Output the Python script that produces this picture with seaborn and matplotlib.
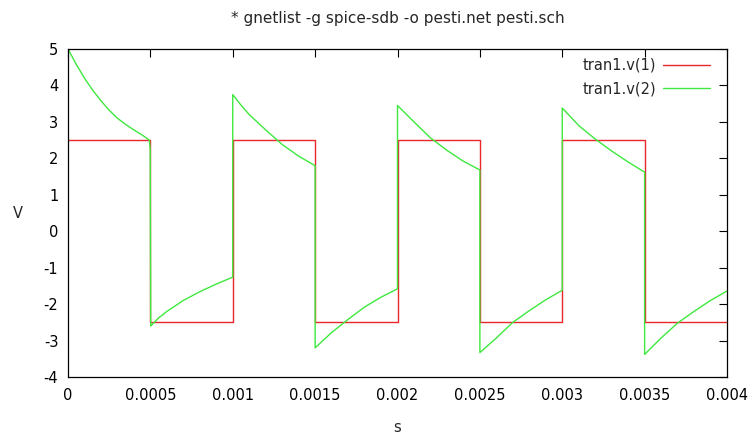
import matplotlib
matplotlib.use("Agg")
import matplotlib.pyplot as plt
import seaborn as sns
import pandas as pd

title = "* gnetlist -g spice-sdb -o pesti.net pesti.sch"
x_label = "s"
y_label = "V"
series_names = ["tran1.v(1)", "tran1.v(2)"]

x_ticks = [0, 0.0005, 0.001, 0.0015, 0.002, 0.0025, 0.003, 0.0035, 0.004]
x_tick_labels = ["0", "0.0005", "0.001", "0.0015", "0.002", "0.0025", "0.003", "0.0035", "0.004"]
y_ticks = [-4, -3, -2, -1, 0, 1, 2, 3, 4, 5]
y_tick_labels = ["-4", "-3", "-2", "-1", "0", "1", "2", "3", "4", "5"]

# tran1.v(1): square wave
v1_t = [0, 0.0005, 0.0005, 0.001, 0.001, 0.0015, 0.0015, 0.002, 0.002,
        0.0025, 0.0025, 0.003, 0.003, 0.0035, 0.0035, 0.004]
v1_v = [2.5, 2.5, -2.5, -2.5, 2.5, 2.5, -2.5, -2.5, 2.5,
        2.5, -2.5, -2.5, 2.5, 2.5, -2.5, -2.5]

# tran1.v(2)
v2_t = [0, 0.00005, 0.0001, 0.00015, 0.0002, 0.00025, 0.0003, 0.00035, 0.0004, 0.00045, 0.000494, 0.000499,
        0.000502, 0.00055, 0.0006, 0.0007, 0.0008, 0.0009, 0.001,
        0.001, 0.00105, 0.0011, 0.0012, 0.0013, 0.0014, 0.0015,
        0.0015, 0.0016, 0.0017, 0.0018, 0.0019, 0.002,
        0.002, 0.0021, 0.0022, 0.0023, 0.0024, 0.0025,
        0.0025, 0.0026, 0.0027, 0.0028, 0.0029, 0.003,
        0.003, 0.0031, 0.0032, 0.0033, 0.0034, 0.0035,
        0.0035, 0.0036, 0.0037, 0.0038, 0.0039, 0.004]
v2_v = [5.0, 4.58, 4.2, 3.87, 3.58, 3.32, 3.1, 2.93, 2.78, 2.64, 2.5, 2.25,
        -2.6, -2.38, -2.2, -1.9, -1.66, -1.45, -1.26,
        3.75, 3.46, 3.2, 2.78, 2.38, 2.06, 1.8,
        -3.2, -2.78, -2.42, -2.08, -1.81, -1.58,
        3.45, 3.0, 2.56, 2.22, 1.92, 1.68,
        -3.33, -2.93, -2.5, -2.18, -1.88, -1.62,
        3.38, 2.9, 2.53, 2.2, 1.9, 1.62,
        -3.38, -2.93, -2.52, -2.2, -1.9, -1.64]

sns.set_style("white")
plt.rcParams.update({
    "font.family": ["DejaVu Sans"],
    "font.size": 10.5,
    "xtick.direction": "in",
    "ytick.direction": "in",
    "xtick.top": True,
    "ytick.right": True,
    "xtick.major.size": 6,
    "ytick.major.size": 6,
    "xtick.major.width": 0.8,
    "ytick.major.width": 0.8,
    "axes.linewidth": 0.9,
    "axes.edgecolor": "black",
    "xtick.color": "black",
    "ytick.color": "black",
})

fig = plt.figure(figsize=(7.52, 4.37), dpi=100)
ax = fig.add_axes([68 / 752, 1 - 377 / 437, (727 - 68) / 752, (377 - 49) / 437])

df1 = pd.DataFrame({"t": v1_t, "V": v1_v})
df2 = pd.DataFrame({"t": v2_t, "V": v2_v})
sns.lineplot(data=df1, x="t", y="V", sort=False, estimator=None, color="#e8262b",
             linewidth=1.0, label=series_names[0], ax=ax)
sns.lineplot(data=df2, x="t", y="V", sort=False, estimator=None, color="#3ee83e",
             linewidth=1.0, label=series_names[1], ax=ax)

ax.set_xlim(0, 0.004)
ax.set_ylim(-4, 5)
ax.set_xticks(x_ticks)
ax.set_xticklabels(x_tick_labels)
ax.set_yticks(y_ticks)
ax.set_yticklabels(y_tick_labels)
ax.tick_params(axis="both", which="major", labelsize=10.5, pad=7)
ax.tick_params(axis="x", pad=8)

ax.set_xlabel(x_label, fontsize=10.5, va="center")
ax.set_ylabel(y_label, fontsize=10.5, rotation=0, ha="center", va="center")
ax.xaxis.set_label_coords(0.5, (377 - 428) / 328)
ax.yaxis.set_label_coords((18 - 68) / 659, 0.5)
ax.set_title(title, fontsize=11, y=1 + (49 - 18) / 328, va="center", pad=0)

ax.legend(loc="upper right", bbox_to_anchor=((710 - 68) / 659, 1 - (58 - 49) / 328),
          frameon=False, markerfirst=False, borderaxespad=0, borderpad=0,
          handlelength=3.2, handletextpad=0.5, labelspacing=0.55, fontsize=10.5)

fig.savefig("out.png", dpi=100, facecolor="white")
